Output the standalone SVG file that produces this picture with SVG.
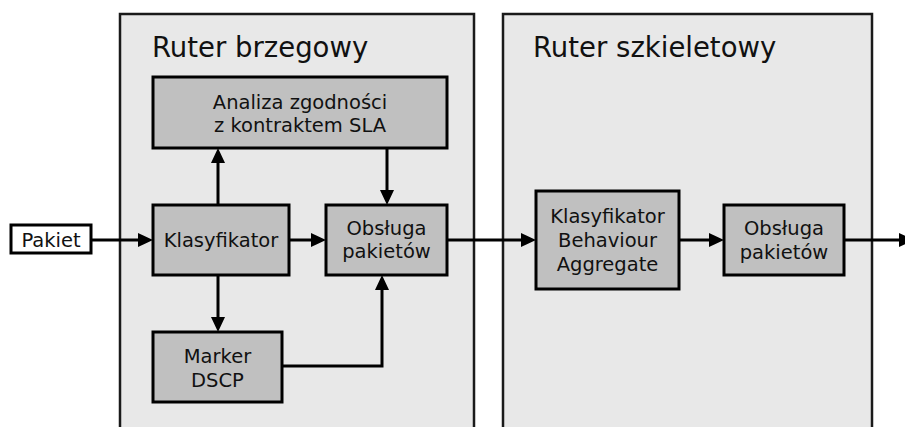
<svg xmlns="http://www.w3.org/2000/svg" width="905" height="427" viewBox="0 0 905 427">
  <defs>
    <marker id="arrow" markerUnits="userSpaceOnUse" markerWidth="16" markerHeight="15" refX="7" refY="7" orient="auto">
      <path d="M0,0 L15,7 L0,14 z" fill="#000"/>
    </marker>
    <style>
      .router { fill: #e8e8e8; stroke: #1a1a1a; stroke-width: 2.5; }
      .box { fill: #c0c0c0; stroke: #000; stroke-width: 3; }
      .input { fill: #fff; stroke: #000; stroke-width: 3; }
      .title { font-family: "DejaVu Sans", Verdana, sans-serif; font-size: 27.5px; fill: #111; }
      .label { font-family: "DejaVu Sans", Verdana, sans-serif; font-size: 19.5px; fill: #111; text-anchor: middle; }
      .link { fill: none; stroke: #000; stroke-width: 3; marker-end: url(#arrow); }
    </style>
  </defs>

  <rect width="905" height="427" fill="#fff"/>

  <!-- Router containers -->
  <g id="edge-router">
    <rect class="router" x="120" y="14" width="354" height="430"/>
    <text class="title" x="152" y="57">Ruter brzegowy</text>
  </g>
  <g id="core-router">
    <rect class="router" x="503" y="14" width="369" height="430"/>
    <text class="title" x="533" y="57">Ruter szkieletowy</text>
  </g>

  <!-- Connectors -->
  <g id="connectors">
    <path class="link" d="M91,240 H145"/>
    <path class="link" d="M289,240 H318"/>
    <path class="link" d="M218,205 V156"/>
    <path class="link" d="M387,148 V197"/>
    <path class="link" d="M218,275 V324"/>
    <path class="link" d="M282,366 H382 V283"/>
    <path class="link" d="M447,240 H528"/>
    <path class="link" d="M679,240 H716"/>
    <path class="link" d="M844,240 H906"/>
  </g>

  <!-- Nodes -->
  <g id="pakiet">
    <rect class="input" x="11" y="225" width="80" height="28"/>
    <text class="label" x="51" y="247">Pakiet</text>
  </g>
  <g id="analiza">
    <rect class="box" x="153" y="77" width="294" height="71"/>
    <text class="label" x="300" y="109">Analiza zgodności</text>
    <text class="label" x="300" y="132">z kontraktem SLA</text>
  </g>
  <g id="klasyfikator">
    <rect class="box" x="153" y="205" width="136" height="70"/>
    <text class="label" x="221" y="247">Klasyfikator</text>
  </g>
  <g id="obsluga-brzeg">
    <rect class="box" x="326" y="205" width="121" height="70"/>
    <text class="label" x="386.5" y="235">Obsługa</text>
    <text class="label" x="386.5" y="258">pakietów</text>
  </g>
  <g id="marker-dscp">
    <rect class="box" x="153" y="332" width="129" height="70"/>
    <text class="label" x="217.5" y="363">Marker</text>
    <text class="label" x="217.5" y="387">DSCP</text>
  </g>
  <g id="klasyfikator-ba">
    <rect class="box" x="536" y="191" width="143" height="98"/>
    <text class="label" x="607.5" y="223">Klasyfikator</text>
    <text class="label" x="607.5" y="247">Behaviour</text>
    <text class="label" x="607.5" y="271">Aggregate</text>
  </g>
  <g id="obsluga-szkielet">
    <rect class="box" x="724" y="205" width="120" height="70"/>
    <text class="label" x="784" y="235">Obsługa</text>
    <text class="label" x="784" y="259">pakietów</text>
  </g>
</svg>
